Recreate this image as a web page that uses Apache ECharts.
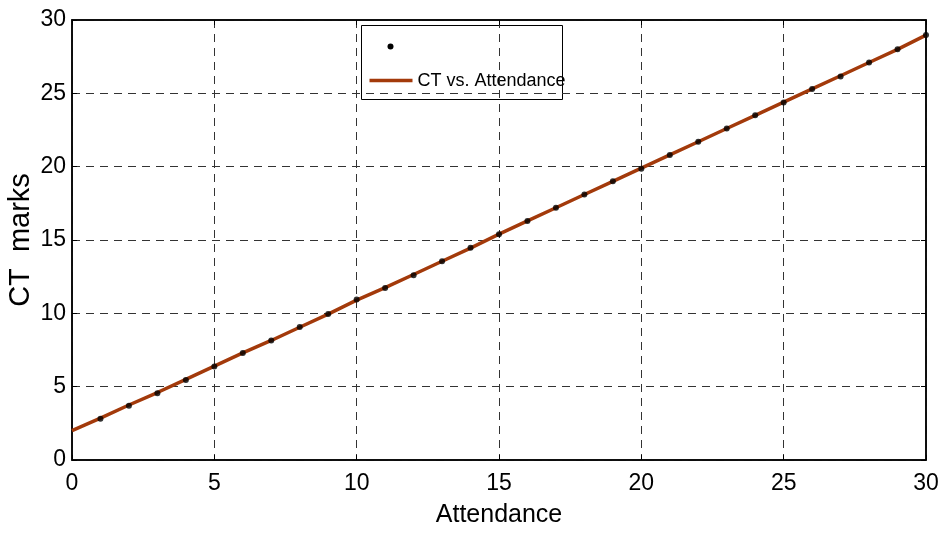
<!DOCTYPE html>
<html><head><meta charset="utf-8">
<script src="https://cdn.jsdelivr.net/npm/echarts@6/dist/echarts.min.js"></script>
<style>html,body{margin:0;padding:0;background:#fff}#c{width:940px;height:536px}</style>
</head><body><div id="c"></div>
<script>
const attendance = [1,2,3,4,5,6,7,8,9,10,11,12,13,14,15,16,17,18,19,20,21,22,23,24,25,26,27,28,29,30];
const ctMarks = [2.82,3.7,4.55,5.45,6.38,7.3,8.15,9.07,9.95,10.95,11.72,12.6,13.55,14.48,15.4,16.3,17.2,18.1,19.0,19.85,20.8,21.7,22.6,23.5,24.38,25.3,26.15,27.1,28.0,28.97];
const fitX = [0,1,2,3,4,5,6,7,8,9,10,11,12,13,14,15,16,17,18,19,20,21,22,23,24,25,26,27,28,29,30];
const fitY = [2.0,2.85,3.75,4.6,5.5,6.4,7.3,8.15,9.05,9.95,10.9,11.75,12.65,13.55,14.45,15.4,16.3,17.2,18.1,19.0,19.9,20.8,21.7,22.6,23.5,24.4,25.3,26.2,27.1,28.0,28.97];
const xTicks = [0,5,10,15,20,25,30];
const yTicks = [0,5,10,15,20,25,30];
const seriesName = 'CT vs. Attendance';

const FONT = "'Liberation Sans',Arial,sans-serif";
const chart = echarts.init(document.getElementById('c'), null, {renderer:'canvas'});
const axisCommon = {
  min: 0, max: 30, interval: 5,
  axisLine: {show: true, onZero: false, lineStyle: {color: '#000', width: 1.5}},
  axisTick: {show: true, inside: true, length: 5, lineStyle: {color: '#000'}},
  splitLine: {show: true, lineStyle: {color: '#333', type: [8, 6], width: 1}},
  axisLabel: {color: '#000', fontFamily: FONT, fontSize: 23},
};
chart.setOption({
  animation: false,
  grid: {left: 72, right: 14, top: 20, bottom: 76, outerBoundsMode: 'none', containLabel: false,
    show: true, borderColor: '#000', borderWidth: 1.5, backgroundColor: '#fff'},
  xAxis: [
    Object.assign({}, axisCommon, {type: 'value', position: 'bottom', name: 'Attendance', nameLocation: 'middle', nameGap: 43,
      nameMoveOverlap: false,
      nameTextStyle: {color: '#000', fontFamily: FONT, fontSize: 25},
      axisLabel: Object.assign({}, axisCommon.axisLabel, {margin: 12, formatter: v => xTicks.includes(v) ? String(v) : ''})}),
    Object.assign({}, axisCommon, {type: 'value', position: 'top', splitLine: {show: false}, axisLabel: {show: false}})
  ],
  yAxis: [
    Object.assign({}, axisCommon, {type: 'value', position: 'left', name: 'CT  marks', nameLocation: 'middle', nameGap: 37,
      nameMoveOverlap: false,
      nameTextStyle: {color: '#000', fontFamily: FONT, fontSize: 29},
      axisLabel: Object.assign({}, axisCommon.axisLabel, {margin: 6, formatter: v => yTicks.includes(v) ? String(v) : ''})}),
    Object.assign({}, axisCommon, {type: 'value', position: 'right', splitLine: {show: false}, axisLabel: {show: false}})
  ],
  series: [
    {type: 'line', name: seriesName, data: fitX.map((x, i) => [x, fitY[i]]), showSymbol: false, smooth: false,
      lineStyle: {color: '#A33A0B', width: 3.5}, z: 3},
    {type: 'scatter', name: 'data', data: attendance.map((x, i) => [x, ctMarks[i]]), symbol: 'circle', symbolSize: 6,
      itemStyle: {color: '#000'}, z: 4}
  ],
  graphic: [{
    type: 'group', left: 361, top: 25,
    children: [
      {type: 'rect', shape: {x: 0, y: 0, width: 201, height: 74}, style: {fill: '#fff', stroke: '#000', lineWidth: 1}},
      {type: 'circle', shape: {cx: 29, cy: 21, r: 3}, style: {fill: '#000'}},
      {type: 'line', shape: {x1: 8, y1: 55, x2: 51, y2: 55}, style: {stroke: '#A33A0B', lineWidth: 3.5}},
      {type: 'text', style: {text: seriesName, x: 56, y: 56, verticalAlign: 'middle', fontFamily: FONT, fontSize: 18, fill: '#000'}}
    ]
  }]
});
</script></body></html>
